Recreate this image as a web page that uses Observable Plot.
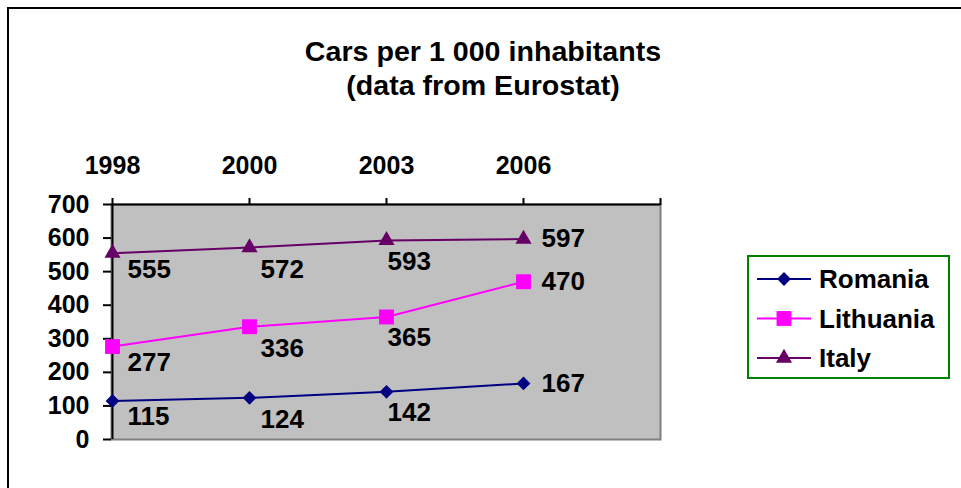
<!DOCTYPE html>
<html><head><meta charset="utf-8">
<script src="https://cdn.jsdelivr.net/npm/d3@7"></script>
<script src="https://cdn.jsdelivr.net/npm/@observablehq/plot@0.6"></script>
<style>
html,body{margin:0;padding:0;background:#fff;overflow:hidden;width:961px;height:488px;}
#wrap{position:relative;width:961px;height:488px;font-family:"Liberation Sans",Arial,sans-serif;font-weight:bold;color:#000;overflow:hidden;}
#border{position:absolute;left:7px;top:7px;width:1100px;height:700px;border:2px solid #000;box-sizing:border-box;}
#title{position:absolute;left:0;top:35px;width:966px;text-align:center;font-size:27px;line-height:34px;transform:scaleX(1.06);transform-origin:483px 0;}
#chart{position:absolute;left:0;top:0;}
#legend{position:absolute;left:740px;top:250px;}
</style></head>
<body><div id="wrap"><div id="border"></div><div id="title">Cars per 1 000 inhabitants<br>(data from Eurostat)</div><div id="chart"></div><div id="legend"></div></div>
<script>
// ---- data ----
const years = ["1998", "2000", "2003", "2006"];
const series = ["Romania", "Lithuania", "Italy"];
const romania = [115, 124, 142, 167];
const lithuania = [277, 336, 365, 470];
const italy = [555, 572, 593, 597];
const yTicks = [0, 100, 200, 300, 400, 500, 600, 700];

// ---- styles ----
const colors = ["#000080", "#FF00FF", "#660066"];
const symbols = ["diamond2", "square", "triangle"];
const radii = [6.2, 8.4, 6];
const labelOffsets = [[15, 16], [11, 22], [1, 21], [18, 0]]; // per category: dx, dy

const values = [romania, lithuania, italy];
const rows = series.flatMap((s, si) => years.map((y, i) => ({series: s, year: y, value: values[si][i]})));
const xDomain = [...years, " "];

const font = {fontSize: 25, fontWeight: "bold", fontFamily: "Liberation Sans, Arial, sans-serif"};

const chart = Plot.plot({
  width: 961,
  height: 488,
  marginLeft: 111,
  marginRight: 301,
  marginTop: 204,
  marginBottom: 49,
  style: {background: "transparent", fontFamily: "Liberation Sans, Arial, sans-serif", fontSize: "25px", fontWeight: "bold", color: "#000", overflow: "visible"},
  x: {type: "point", domain: xDomain, padding: 0},
  y: {domain: [0, 700]},
  color: {domain: series, range: colors},
  marks: [
    Plot.frame({fill: "#C0C0C0", stroke: "#808080", strokeWidth: 2}),
    Plot.ruleX([years[0]], {stroke: "#000", strokeWidth: 2}),
    Plot.ruleY([700], {stroke: "#000", strokeWidth: 2}),
    Plot.axisY({ticks: yTicks, tickSize: 8, tickPadding: 14, strokeWidth: 2, stroke: "#000", label: null, ...font}),
    Plot.axisX({anchor: "top", ticks: xDomain, tickSize: 7, tickPadding: 24, strokeWidth: 2, stroke: "#000", label: null, ...font}),
    Plot.line(rows, {x: "year", y: "value", z: "series", stroke: "series", strokeWidth: 2}),
    ...series.map((s, si) => Plot.dot(rows.filter(d => d.series === s), {
      x: "year", y: "value", fill: colors[si], stroke: "none", symbol: symbols[si], r: radii[si]
    })),
    ...years.map((y, i) => Plot.text(rows.filter(d => d.year === y), {
      x: "year", y: "value", text: d => String(d.value), textAnchor: "start",
      dx: labelOffsets[i][0], dy: labelOffsets[i][1], fill: "#000", ...font, fontSize: 26
    }))
  ]
});
document.getElementById("chart").appendChild(chart);

// ---- legend ----
const lg = d3.select("#legend").append("svg").attr("width", 221).attr("height", 140);
lg.append("rect").attr("x", 8).attr("y", 6).attr("width", 201).attr("height", 122)
  .attr("fill", "#fff").attr("stroke", "#008000").attr("stroke-width", 2);
const d3sym = {diamond2: d3.symbolDiamond2, square: d3.symbolSquare, triangle: d3.symbolTriangle};
series.forEach((s, si) => {
  const cy = 29 + si * 39.5;
  const g = lg.append("g");
  g.append("line").attr("x1", 17).attr("x2", 71).attr("y1", cy).attr("y2", cy)
    .attr("stroke", colors[si]).attr("stroke-width", 2);
  g.append("path").attr("transform", `translate(44,${cy})`)
    .attr("d", d3.symbol(d3sym[symbols[si]], Math.PI * radii[si] * radii[si])())
    .attr("fill", colors[si]);
  g.append("text").attr("x", 79).attr("y", cy).attr("dy", "0.36em")
    .attr("font-family", "Liberation Sans, Arial, sans-serif").attr("font-weight", "bold")
    .attr("font-size", 26).attr("fill", "#000").text(s);
});
</script>
</body></html>
